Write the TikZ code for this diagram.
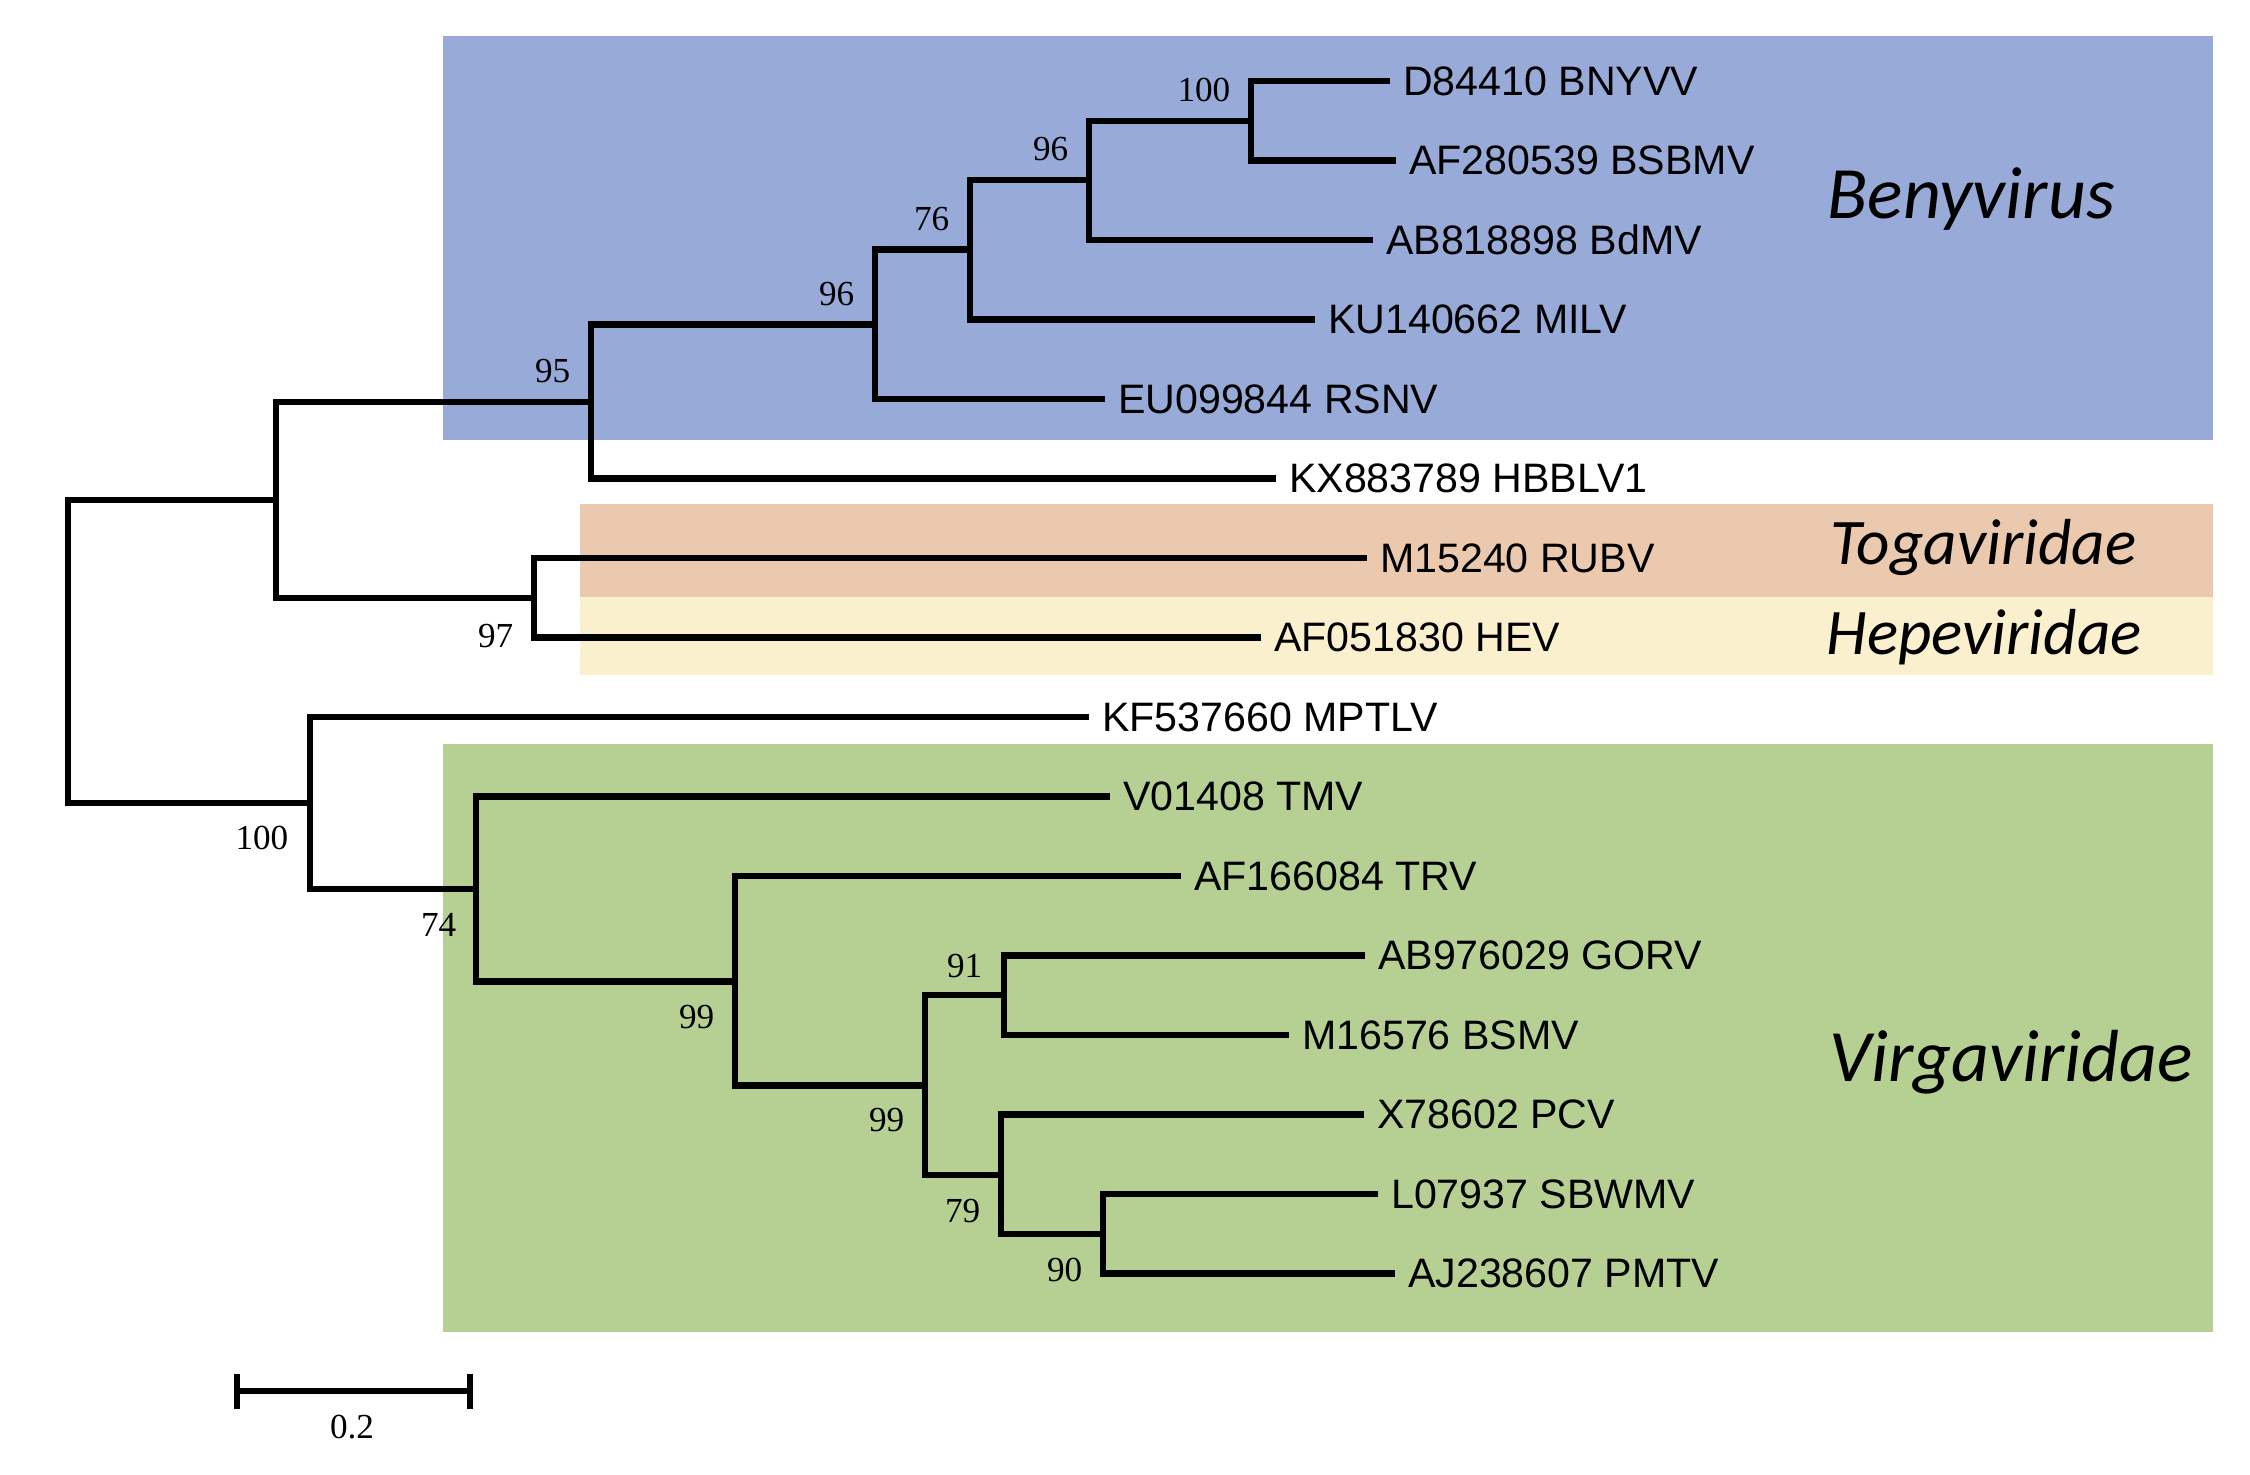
\documentclass[tikz,border=0pt]{standalone}
\usepackage{fontspec}
\setmainfont{Liberation Serif}
\setsansfont{Liberation Sans}
\newfontfamily\cladefont{Carlito}
\usepackage{tikz}
\usetikzlibrary{arrows.meta,positioning}
\definecolor{benyblue}{RGB}{151,170,216}
\definecolor{togabrown}{RGB}{234,201,174}
\definecolor{hepeyellow}{RGB}{250,240,206}
\definecolor{virgagreen}{RGB}{181,208,146}

\begin{document}
\begin{tikzpicture}[x=0.01cm, y=-0.01cm,
    branch/.style={line width=1.75pt, black},
    taxon/.style={anchor=west, inner xsep=0.125cm, inner ysep=0pt, font=\sffamily\fontsize{11.7}{14}\selectfont},
    bsval/.style={inner sep=0pt, font=\fontsize{10}{12}\selectfont},
    cladename/.style={anchor=base west, inner sep=0pt, font=\cladefont\itshape\fontsize{21}{25}\selectfont},
    cladesmall/.style={cladename, font=\cladefont\itshape\fontsize{18.5}{22}\selectfont},
   ]

    \useasboundingbox (0,0) rectangle (2250,1475);

    \fill[benyblue]   (443,36)  rectangle (2213,440);
    \fill[togabrown]  (580,504) rectangle (2213,597);
    \fill[hepeyellow] (580,597) rectangle (2213,675);
    \fill[virgagreen] (443,744) rectangle (2213,1332);

    \node (t0)  [taxon] at (1390,81)     {D84410 BNYVV};
    \node (t1)  [taxon] at (1396,160.5)  {AF280539 BSBMV};
    \node (t2)  [taxon] at (1373,240)    {AB818898 BdMV};
    \node (t3)  [taxon] at (1315,319.5)  {KU140662 MILV};
    \node (t4)  [taxon] at (1105,399)    {EU099844 RSNV};
    \node (t5)  [taxon] at (1276,478.5)  {KX883789 HBBLV1};
    \node (t6)  [taxon] at (1367,558)    {M15240 RUBV};
    \node (t7)  [taxon] at (1261,637.5)  {AF051830 HEV};
    \node (t8)  [taxon] at (1089,717)    {KF537660 MPTLV};
    \node (t9)  [taxon] at (1110,796.5)  {V01408 TMV};
    \node (t10) [taxon] at (1181,876)    {AF166084 TRV};
    \node (t11) [taxon] at (1365,955.5)  {AB976029 GORV};
    \node (t12) [taxon] at (1289,1035)   {M16576 BSMV};
    \node (t13) [taxon] at (1364,1114.5) {X78602 PCV};
    \node (t14) [taxon] at (1378,1194)   {L07937 SBWMV};
    \node (t15) [taxon] at (1395,1273.5) {AJ238607 PMTV};

    \coordinate (root) at (68,651.5);
    \coordinate (nA)   at (276,500);
    \coordinate (n95)  at (591,402);
    \coordinate (n96a) at (875,324.5);
    \coordinate (n76)  at (970,249.5);
    \coordinate (n96b) at (1089,180);
    \coordinate (n100a) at (1251,120.75);
    \coordinate (n97)  at (534,598);
    \coordinate (n100b) at (310,803);
    \coordinate (n74)  at (476,889);
    \coordinate (n99a) at (735,981.5);
    \coordinate (n99b) at (925,1085.5);
    \coordinate (n91)  at (1004,995);
    \coordinate (n79)  at (1001,1175);
    \coordinate (n90)  at (1103,1234);

    \draw[branch] (root) |- (nA);
    \draw[branch] (root) |- (n100b);
    \draw[branch] (nA) |- (n95);
    \draw[branch] (nA) |- (n97);
    \draw[branch] (n95) |- (n96a);
    \draw[branch] (n95) |- (t5.west);
    \draw[branch] (n96a) |- (n76);
    \draw[branch] (n96a) |- (t4.west);
    \draw[branch] (n76) |- (n96b);
    \draw[branch] (n76) |- (t3.west);
    \draw[branch] (n96b) |- (n100a);
    \draw[branch] (n96b) |- (t2.west);
    \draw[branch] (n100a) |- (t0.west);
    \draw[branch] (n100a) |- (t1.west);
    \draw[branch] (n97) |- (t6.west);
    \draw[branch] (n97) |- (t7.west);
    \draw[branch] (n100b) |- (t8.west);
    \draw[branch] (n100b) |- (n74);
    \draw[branch] (n74) |- (t9.west);
    \draw[branch] (n74) |- (n99a);
    \draw[branch] (n99a) |- (t10.west);
    \draw[branch] (n99a) |- (n99b);
    \draw[branch] (n99b) |- (n91);
    \draw[branch] (n99b) |- (n79);
    \draw[branch] (n91) |- (t11.west);
    \draw[branch] (n91) |- (t12.west);
    \draw[branch] (n79) |- (t13.west);
    \draw[branch] (n79) |- (n90);
    \draw[branch] (n90) |- (t14.west);
    \draw[branch] (n90) |- (t15.west);

    \node (b100a) [bsval, above left=0.18cm and 0.2cm of n100a] {100};
    \node (b96b)  [bsval, above left=0.18cm and 0.2cm of n96b]  {96};
    \node (b76)   [bsval, above left=0.18cm and 0.2cm of n76]   {76};
    \node (b96a)  [bsval, above left=0.18cm and 0.2cm of n96a]  {96};
    \node (b95)   [bsval, above left=0.18cm and 0.2cm of n95]   {95};
    \node (b97)   [bsval, below left=0.25cm and 0.2cm of n97]   {97};
    \node (b100b) [bsval, below left=0.22cm and 0.21cm of n100b] {100};
    \node (b74)   [bsval, below left=0.24cm and 0.19cm of n74]  {74};
    \node (b99a)  [bsval, below left=0.23cm and 0.2cm of n99a]  {99};
    \node (b91)   [bsval, above left=0.16cm and 0.21cm of n91]  {91};
    \node (b99b)  [bsval, below left=0.22cm and 0.2cm of n99b]  {99};
    \node (b79)   [bsval, below left=0.23cm and 0.2cm of n79]   {79};
    \node (b90)   [bsval, below left=0.23cm and 0.2cm of n90]   {90};

    \node (beny)  [cladename]  at (1827,218)  {Benyvirus};
    \node (toga)  [cladesmall] at (1830,564)  {Togaviridae};
    \node (hepe)  [cladesmall] at (1826,654)  {Hepeviridae};
    \node (virga) [cladename]  at (1829,1081) {Virgaviridae};

    \coordinate (sbL) at (234,1391);
    \coordinate (sbR) at (473,1391);
    \draw[branch, {Bar[width=0.35cm]}-{Bar[width=0.35cm]}] (sbL) -- (sbR);
    \node (sblab) [bsval] at (352,1427) {0.2};
\end{tikzpicture}
\end{document}
